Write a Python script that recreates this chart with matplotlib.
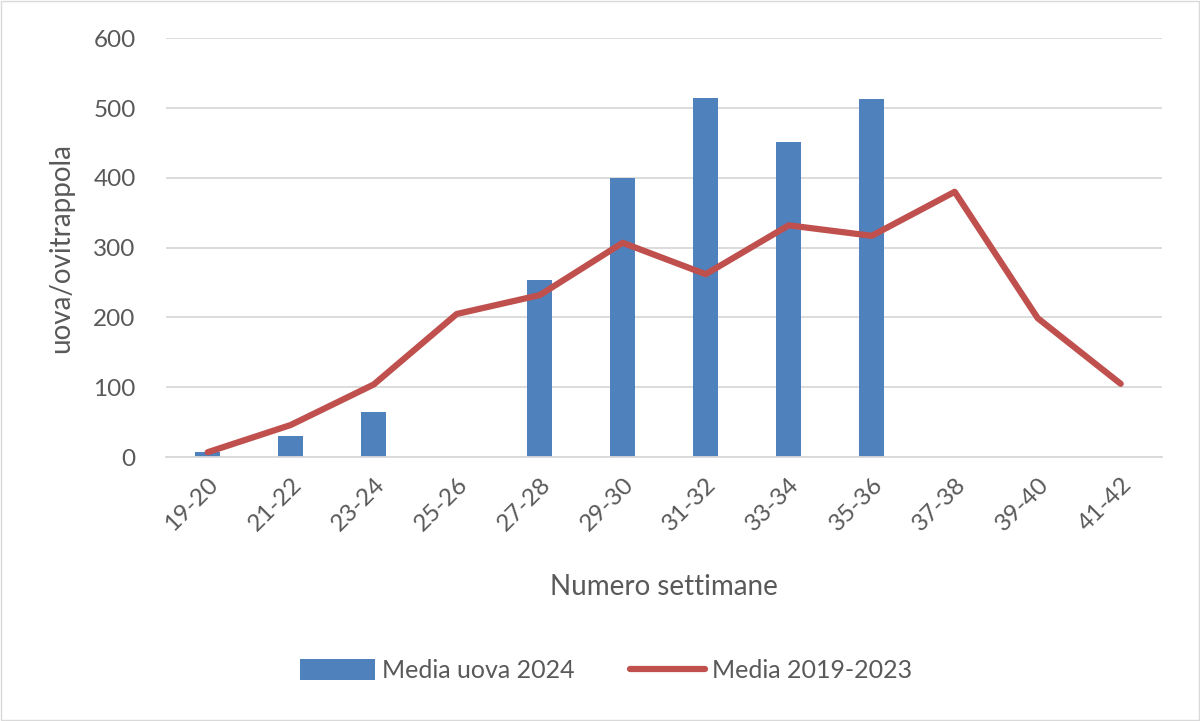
import numpy as np
import matplotlib.pyplot as plt
from matplotlib.patches import Rectangle

plt.rcParams['font.family'] = ['Lato', 'DejaVu Sans']

settimane = ['19-20', '21-22', '23-24', '25-26', '27-28', '29-30',
             '31-32', '33-34', '35-36', '37-38', '39-40', '41-42']
uova_2024 = [7, 30, 64, np.nan, 254, 400, 514, 451, 513, np.nan, np.nan, np.nan]
media_2019_2023 = [7, 46, 104, 205, 232, 307, 262, 332, 317, 380, 199, 105]

grigio = '#595959'

fig = plt.figure(figsize=(12, 7.21), dpi=100)
ax = fig.add_axes([0.1385, 0.366, 0.83, 0.581])

x = np.arange(len(settimane))
barre = ax.bar(x, uova_2024, width=0.3, color='#4F81BD', label='Media uova 2024', zorder=2)
linea, = ax.plot(x, media_2019_2023, color='#C0504D', lw=4.5, solid_capstyle='round',
                 label='Media 2019-2023', zorder=3)

ax.set_xlim(-0.5, len(settimane) - 0.5)
ax.set_ylim(0, 600)
ax.set_yticks(range(0, 601, 100))
ax.grid(axis='y', color='#D9D9D9', lw=1.3, zorder=0)
ax.set_axisbelow(True)
for s in ['top', 'right', 'left']:
    ax.spines[s].set_visible(False)
ax.spines['bottom'].set_color('#D9D9D9')
ax.spines['bottom'].set_linewidth(1.3)
ax.tick_params(axis='both', length=0, labelsize=17.5, labelcolor=grigio)
ax.tick_params(axis='y', pad=22)
ax.set_xticks(x)
ax.set_xticklabels(settimane, rotation=45, ha='right', rotation_mode='anchor')
ax.tick_params(axis='x', pad=12)

ax.set_xlabel('Numero settimane', fontsize=20, color=grigio, labelpad=28)
ax.set_ylabel('uova/ovitrappola', fontsize=20, color=grigio, labelpad=14)

fig.legend([barre, linea], ['Media uova 2024', 'Media 2019-2023'],
           loc='center', bbox_to_anchor=(0.505, 0.07), ncol=2, frameon=False,
           fontsize=18, labelcolor=grigio, handlelength=3.0, handleheight=0.9,
           columnspacing=2.2, handletextpad=0.3)

fig.patches.append(Rectangle((0.001, 0.001), 0.998, 0.997, transform=fig.transFigure,
                             fill=False, edgecolor='#D9D9D9', lw=1))

fig.savefig('out.png', dpi=100)
